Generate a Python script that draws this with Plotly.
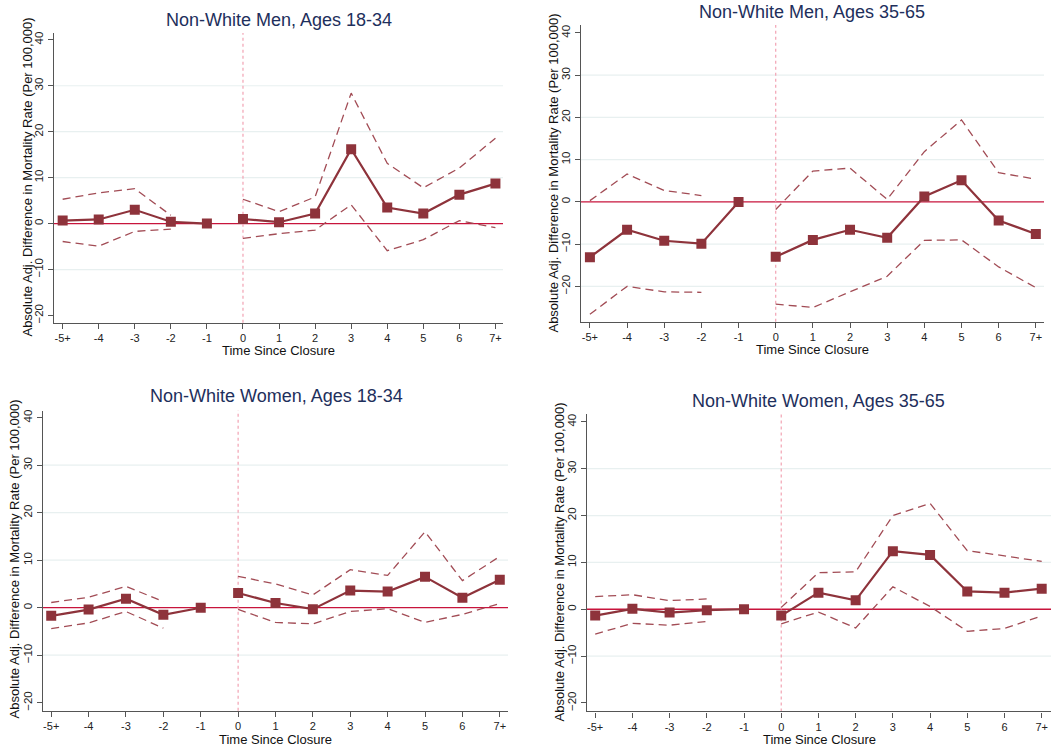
import plotly.graph_objects as go

periods = ["-5+", "-4", "-3", "-2", "-1", "0", "1", "2", "3", "4", "5", "6", "7+"]

titles = ["Non-White Men, Ages 18-34", "Non-White Men, Ages 35-65",
          "Non-White Women, Ages 18-34", "Non-White Women, Ages 35-65"]

# point estimates (None = omitted reference period has no CI)
men_young_est = [0.65, 0.9, 3.0, 0.4, 0.0, 1.0, 0.3, 2.2, 16.2, 3.5, 2.2, 6.3, 8.7]
men_young_hi = [5.3, 6.7, 7.6, 1.8, None, 5.3, 2.6, 5.8, 28.4, 13.1, 7.8, 12.1, 18.6]
men_young_lo = [-3.9, -4.9, -1.7, -1.2, None, -3.2, -2.2, -1.4, 4.1, -5.9, -3.5, 0.65, -0.9]

men_old_est = [-13.1, -6.6, -9.2, -9.9, 0.0, -13.0, -9.0, -6.6, -8.5, 1.3, 5.1, -4.4, -7.6]
men_old_hi = [0.3, 6.6, 2.7, 1.5, None, -1.8, 7.3, 8.0, 0.6, 11.9, 19.4, 6.9, 5.4]
men_old_lo = [-26.6, -20.0, -21.3, -21.4, None, -24.2, -25.0, -21.3, -17.6, -9.1, -9.0, -15.4, -20.3]

women_young_est = [-1.7, -0.4, 1.9, -1.5, 0.0, 3.1, 1.0, -0.3, 3.6, 3.4, 6.5, 2.1, 5.9]
women_young_hi = [1.1, 2.2, 4.5, 1.3, None, 6.6, 5.0, 2.7, 8.0, 6.8, 16.0, 5.7, 10.8]
women_young_lo = [-4.4, -3.2, -0.8, -4.3, None, -0.35, -3.1, -3.4, -0.8, -0.2, -3.1, -1.4, 0.9]

women_old_est = [-1.35, 0.1, -0.7, -0.2, 0.0, -1.35, 3.55, 1.9, 12.4, 11.6, 3.8, 3.55, 4.4]
women_old_hi = [2.7, 3.1, 1.85, 2.2, None, 0.4, 7.8, 8.0, 20.0, 22.6, 12.5, 11.4, 10.2]
women_old_lo = [-5.3, -3.0, -3.4, -2.6, None, -3.1, -0.6, -4.0, 4.8, 0.6, -4.7, -4.1, -1.4]

y_ticks = [-20, -10, 0, 10, 20, 30, 40]
y_title = "Absolute Adj. Difference in Mortality Rate (Per 100,000)"
x_title = "Time Since Closure"

W, H = 1051, 749
panels = [
    dict(est=men_young_est, hi=men_young_hi, lo=men_young_lo,
         px=(54, 503, 32, 322.7), yr=(-21.6, 41.5), xr=(-0.24, 12.21),
         tpos=(279, 19), ytx=28, yty=177, xty=350, grid=[-10, 10, 20, 30]),
    dict(est=men_old_est, hi=men_old_hi, lo=men_old_lo,
         px=(581, 1044, 24, 321.7), yr=(-28.4, 41.9), xr=(-0.24, 12.22),
         tpos=(812, 11), ytx=554, yty=173, xty=349, grid=[-20, -10, 10, 20, 30]),
    dict(est=women_young_est, hi=women_young_hi, lo=women_young_lo,
         px=(43, 508, 410.7, 711.7), yr=(-21.7, 41.5), xr=(-0.22, 12.22),
         tpos=(276, 396), ytx=15, yty=560, xty=740, grid=[-10, 10, 20, 30]),
    dict(est=women_old_est, hi=women_old_hi, lo=women_old_lo,
         px=(587, 1051, 414, 712.3), yr=(-21.8, 41.7), xr=(-0.22, 12.25),
         tpos=(818, 401), ytx=559, yty=563, xty=740, grid=[-10, 10, 20, 30]),
]

MAIN = "#8E333B"
CI = "#A24C55"
ZERO = "#C8143C"
VLINE = "#F2A3B3"
GRID = "#E8F0F0"
AXIS = "#555555"
TITLE = "#1E2F5C"
FONT = "Liberation Sans, Arial, Helvetica, sans-serif"

fig = go.Figure()
shapes = []
annotations = []
xs = list(range(len(periods)))
pre = slice(0, 5)
post = slice(5, 13)

for i, p in enumerate(panels, start=1):
    xa = "x" if i == 1 else f"x{i}"
    ya = "y" if i == 1 else f"y{i}"
    l, r, t, b = p["px"]
    fig.update_layout(**{
        f"xaxis{'' if i == 1 else i}": dict(
            domain=[l / W, min(r / W, 1.0)], range=list(p["xr"]), anchor=ya,
            tickvals=xs, ticktext=periods, showgrid=False, zeroline=False,
            showline=True, linecolor=AXIS, linewidth=1.3, ticks="outside",
            ticklen=5, tickcolor=AXIS, tickwidth=1.2,
            tickfont=dict(size=11, color="#222", family=FONT), fixedrange=True),
        f"yaxis{'' if i == 1 else i}": dict(
            domain=[1 - b / H, 1 - t / H], range=list(p["yr"]), anchor=xa,
            tickvals=y_ticks, showgrid=False, zeroline=False,
            showline=True, linecolor=AXIS, linewidth=1.3, ticks="outside",
            ticklen=5, tickcolor=AXIS, tickwidth=1.2, tickangle=-90,
            tickfont=dict(size=11.5, color="#222", family=FONT), fixedrange=True),
    })
    for g in p["grid"]:
        shapes.append(dict(type="line", xref=f"{xa} domain", yref=ya, x0=0, x1=1,
                           y0=g, y1=g, line=dict(color=GRID, width=1.2), layer="below"))
    shapes.append(dict(type="line", xref=f"{xa} domain", yref=ya, x0=0, x1=1,
                       y0=0, y1=0, line=dict(color=ZERO, width=1.3), layer="below"))
    shapes.append(dict(type="line", xref=xa, yref=f"{ya} domain", x0=5, x1=5,
                       y0=0, y1=1, line=dict(color=VLINE, width=1.2, dash="dot"), layer="below"))
    for seg in (pre, post):
        sx = xs[seg]
        for band in ("hi", "lo"):
            vals = p[band][seg]
            bx = [x for x, v in zip(sx, vals) if v is not None]
            bv = [v for v in vals if v is not None]
            fig.add_trace(go.Scatter(x=bx, y=bv, mode="lines", xaxis=xa, yaxis=ya,
                                     line=dict(color=CI, width=1.3, dash="8px,5px"),
                                     showlegend=False, hoverinfo="skip"))
        fig.add_trace(go.Scatter(x=sx, y=p["est"][seg], mode="lines+markers", xaxis=xa, yaxis=ya,
                                 line=dict(color=MAIN, width=2.2),
                                 marker=dict(symbol="square", size=10, color=MAIN,
                                             line=dict(width=0)),
                                 showlegend=False))
    annotations.append(dict(text=titles[i - 1], x=p["tpos"][0] / W, y=1 - p["tpos"][1] / H,
                            xref="paper", yref="paper", showarrow=False,
                            xanchor="center", yanchor="middle",
                            font=dict(size=18, color=TITLE, family=FONT)))
    annotations.append(dict(text=y_title, x=p["ytx"] / W, y=1 - p["yty"] / H,
                            xref="paper", yref="paper", showarrow=False, textangle=-90,
                            xanchor="center", yanchor="middle",
                            font=dict(size=13, color="#111", family=FONT)))
    annotations.append(dict(text=x_title, x=((l + r) / 2) / W, y=1 - p["xty"] / H,
                            xref="paper", yref="paper", showarrow=False,
                            xanchor="center", yanchor="middle",
                            font=dict(size=13, color="#111", family=FONT)))

fig.update_layout(width=W, height=H, margin=dict(l=0, r=0, t=0, b=0),
                  plot_bgcolor="white", paper_bgcolor="white",
                  shapes=shapes, annotations=annotations, showlegend=False,
                  font=dict(family=FONT))

fig.write_html("out.html", config={"displayModeBar": False},
               post_script="document.body.style.margin='0';document.body.style.overflow='hidden';")
